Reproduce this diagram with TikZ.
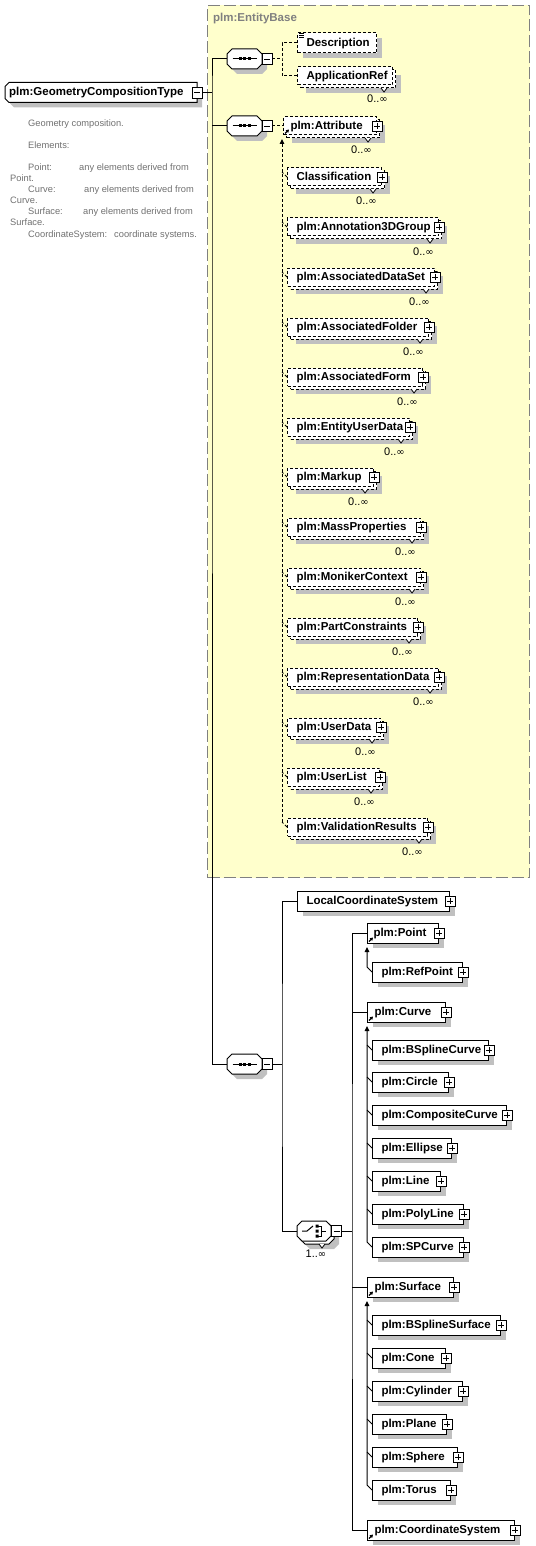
\documentclass[tikz,border=0pt]{standalone}
\usepackage{fontspec}
\setmainfont{Liberation Sans}
\newfontfamily\symf{DejaVu Sans}
\usetikzlibrary{calc,shadows,arrows.meta}
\definecolor{yel}{RGB}{255,255,204}
\definecolor{sgray}{RGB}{192,192,192}
\definecolor{bgray}{RGB}{128,128,128}
\definecolor{tgray}{RGB}{112,112,112}
\newcommand\etxt[3]{\makebox[#1pt][l]{\hspace{#2pt}\rule[-3.4pt]{0pt}{13.4pt}#3}}
\newcommand\infy{{\symf\fontsize{10}{12}\selectfont ∞}}
\newcommand\mkoct[4]{\draw[line width=1pt,fill=white,#4] (#1-#3+5,#2-10) -- (#1+#3-5,#2-10) -- (#1+#3,#2-5) -- (#1+#3,#2+5) -- (#1+#3-5,#2+10) -- (#1-#3+5,#2+10) -- (#1-#3,#2+5) -- (#1-#3,#2-5) -- cycle;}
\newcommand\seqicon[2]{\draw[line width=1pt] (#1-12,#2) -- (#1+12,#2); \fill (#1-6,#2-1.5) rectangle ++(3,3); \fill (#1-1.5,#2-1.5) rectangle ++(3,3); \fill (#1+3,#2-1.5) rectangle ++(3,3);}
\tikzset{
 shad/.style={drop shadow={shadow xshift=5pt,shadow yshift=-5pt,fill=sgray,opacity=1}},
 bfont/.style={font=\bfseries\fontsize{11.5}{13}\selectfont},
 elbox/.style={draw, fill=white, line width=1pt, inner sep=0pt, minimum height=20pt, anchor=west, bfont},
 optbox/.style={elbox, dash pattern=on 3pt off 2pt},
 repf/.style={optbox, minimum height=18pt},
 pbox/.style={draw, solid, fill=white, line width=0.8pt, minimum width=10pt, minimum height=10pt, inner sep=0pt,
   path picture={\draw[line width=0.8pt] ([xshift=2pt]path picture bounding box.west) -- ([xshift=-2pt]path picture bounding box.east) ([yshift=-2pt]path picture bounding box.north) -- ([yshift=2pt]path picture bounding box.south);}},
 mbox/.style={draw, solid, fill=white, line width=0.8pt, minimum width=10pt, minimum height=11pt, inner sep=0pt,
   path picture={\draw[line width=0.8pt] ([xshift=2pt]path picture bounding box.west) -- ([xshift=-2pt]path picture bounding box.east);}},
 octn/.style={minimum width=#1, minimum height=20pt, inner sep=0pt},
 conn/.style={line width=1pt},
 cdash/.style={line width=1pt, dash pattern=on 3pt off 2pt},
 subarr/.style={-{Triangle[length=5pt,width=4.5pt]}},
 mult/.style={font=\fontsize{11}{12}\selectfont, inner sep=0pt, anchor=base east},
 desc/.style={font=\fontsize{9.3}{11}\selectfont, text=tgray, inner sep=0pt, anchor=base west},
 refmark/.style={line width=1.2pt, -{Triangle[length=3pt,width=3.5pt]}},
}
\begin{document}
\begin{tikzpicture}[x=1pt,y=-1pt]
\useasboundingbox (0,0) rectangle (535,1546);
% EntityBase group
\node[draw=bgray, line width=1pt, dash pattern=on 12pt off 4pt, fill=yel, minimum width=322pt, minimum height=872pt, anchor=north west, inner sep=0pt] (eb) at (207,5) {};
\node[anchor=base west, inner sep=0pt, bfont, text=bgray] (ebl) at (213,22) {plm:EntityBase};

% root
\draw[line width=1pt, fill=white, shad] (9,82.5) -- (197,82.5) -- (197,102.5) -- (9,102.5) -- (5,98.5) -- (5,86.5) -- cycle;
\node[anchor=west, inner sep=0pt, minimum height=20pt, bfont] (root) at (5,92.5) {\etxt{192}{4}{plm:GeometryCompositionType}};
\node[mbox] (rootm) at (197,92.5) {};

% description text
\node[desc] (d1) at (28,127) {Geometry composition.};
\node[desc] (d2) at (28,149) {Elements:};
\node[desc] (d3) at (28,171) {Point:};
\node[desc] (d3b) at (79,171) {any elements derived from};
\node[desc] (d4) at (10,182) {Point.};
\node[desc] (d5) at (28,193) {Curve:};
\node[desc] (d5b) at (84,193) {any elements derived from};
\node[desc] (d6) at (10,204) {Curve.};
\node[desc] (d7) at (28,215) {Surface:};
\node[desc] (d7b) at (83,215) {any elements derived from};
\node[desc] (d8) at (10,226) {Surface.};
\node[desc] (d9) at (28,237) {CoordinateSystem:};
\node[desc] (d9b) at (114,237) {coordinate systems.};

% sequences
\mkoct{244.5}{59}{17.5}{shad}
\node[octn=35pt] (s1) at (244.5,59) {};
\seqicon{244.5}{59}
\node[mbox] (s1m) at (267,59) {};
\mkoct{244.5}{126}{17.5}{shad}
\node[octn=35pt] (s2) at (244.5,126) {};
\seqicon{244.5}{126}
\node[mbox] (s2m) at (267,126) {};
\mkoct{244.5}{1064}{17.5}{shad}
\node[octn=35pt] (s3) at (244.5,1064) {};
\seqicon{244.5}{1064}
\node[mbox] (s3m) at (267,1064) {};

\coordinate (j1) at (212,92.5);
\draw[conn] (rootm.east) -- (j1);
\draw[conn] (s1.west) -| (j1) |- (s3.west);
\draw[conn] (s2.west) -- (s2.west -| j1);

% sequence 1 content
\node[optbox, shad, minimum width=79pt] (desc) at (297,43) {\etxt{79}{9}{Description}};
\draw[line width=0.7pt] ($(desc.north west)+(2,1)$) -- ++(5,0) ($(desc.north west)+(2,3)$) -- ++(5,0) ($(desc.north west)+(2,5)$) -- ++(5,0);
\node[repf, shad, minimum width=95pt] (app-b) at (300,79) {};
\node[repf, minimum width=95pt] (app) at (297,76) {\etxt{95}{9}{ApplicationRef}};
\draw[line width=0.8pt, fill=white] (381,88) -- (384,92) -- (387,88);
\node[mult] (app-m) at (388,103) {0..\infy};
\coordinate (j2) at (282,59);
\draw[cdash] (s1m.east) -- (j2);
\draw[cdash] (desc.west) -| (j2) |- (app.west);

% sequence 2 content
\node[repf, shad, minimum width=93pt] (attr-b) at (286,129) {};
\node[repf, minimum width=93pt] (attr) at (283,126) {\etxt{93}{7}{plm:Attribute}};
\draw[line width=0.8pt, fill=white] (365,138) -- (368,142) -- (371,138);
\node[pbox] (attr-p) at (attr.east) {};
\node[mult] (attr-m) at (372,154) {0..\infy};
\draw[refmark] ($(attr.south west)+(2,-2)$) -- ++(4,-4);
\draw[cdash] (s2m.east) -- (attr.west);
\foreach \nm/\c/\r/\t in {cls/177/381/Classification, ann/227/438/plm:Annotation3DGroup, ads/277/434/plm:AssociatedDataSet, afo/327/428/plm:AssociatedFolder, afm/377/422/plm:AssociatedForm, eud/427/409/plm:EntityUserData, mku/477/373/plm:Markup, mpr/527/420/plm:MassProperties, mcx/577/420/plm:MonikerContext, pcs/627/417/plm:PartConstraints, rpd/677/438/plm:RepresentationData, usd/727/380/plm:UserData, usl/777/379/plm:UserList, vrs/827/427/plm:ValidationResults}{
  \pgfmathsetmacro\w{\r-287}
  \node[repf, shad, minimum width=\w pt] (\nm-b) at (290,\c+3) {};
  \node[repf, minimum width=\w pt] (\nm) at (287,\c) {\etxt{\w}{9}{\t}};
  \draw[line width=0.8pt, fill=white] (\r-11,\c+12) -- (\r-8,\c+16) -- (\r-5,\c+12);
  \node[pbox] (\nm-p) at (\nm.east) {};
  \node[mult] (\nm-m) at (\r-4,\c+28) {0..\infy};
  \draw[cdash] (\nm.west) -- ++(-5,-5);
}
\coordinate (attA) at (282,139);
\draw[cdash, subarr] ($(vrs.west)+(-5,-5)$) -- (attA);

% sequence 3 content
\coordinate (j3) at (282,1064);
\draw[conn] (s3m.east) -- (j3);
\node[elbox, shad, minimum width=152pt] (lcs) at (297,901) {\etxt{152}{9}{LocalCoordinateSystem}};
\node[pbox] (lcs-p) at (lcs.east) {};

% choice
\mkoct{317}{1234}{17}{shad}
\draw[line width=0.8pt, fill=white] (319,1244) -- (322,1248) -- (325,1244);
\mkoct{314}{1231}{17}{}
\node[octn=34pt] (ch) at (314,1231) {};
\draw[line width=1pt] (302,1231) -- (307,1231) -- (313,1226);
\fill (315.5,1224.5) rectangle ++(3,3) (315.5,1229.5) rectangle ++(3,3) (315.5,1234.5) rectangle ++(3,3);
\draw[line width=0.8pt] (318,1226) -- (321,1226) -- (321,1236) -- (318,1236) (321,1231) -- (326,1231);
\node[mbox] (chm) at (336.5,1231) {};
\node[mult, anchor=base] (ch-m) at (316,1257) {1..\infy};
\draw[conn] (lcs.west) -| (j3) |- (ch.west);

\foreach \nm/\x/\c/\r/\i/\t in {pt/367/933/438/6/plm:Point, rpt/372/972/462/9/plm:RefPoint, cur/367/1012/445/7/plm:Curve, bsc/372/1050/488/9/plm:BSplineCurve, cir/372/1082/448/9/plm:Circle, cpc/372/1115/506/9/plm:CompositeCurve, ell/372/1148/451/9/plm:Ellipse, lin/372/1181/440/9/plm:Line, pol/372/1214/463/9/plm:PolyLine, spc/372/1247/463/9/plm:SPCurve, sur/367/1287/453/7/plm:Surface, bss/372/1325/500/9/plm:BSplineSurface, con/372/1358/445/9/plm:Cone, cyl/372/1391/462/9/plm:Cylinder, pla/372/1424/446/9/plm:Plane, sph/372/1457/457/9/plm:Sphere, tor/372/1490/450/9/plm:Torus, cs/367/1530/514/7/plm:CoordinateSystem}{
  \pgfmathsetmacro\w{\r-\x}
  \node[elbox, shad, minimum width=\w pt] (\nm) at (\x,\c) {\etxt{\w}{\i}{\t}};
  \node[pbox] (\nm-p) at (\nm.east) {};
}
\foreach \nm in {pt,cur,sur,cs}{\draw[refmark] ($(\nm.south west)+(2,-2)$) -- ++(4,-4);}
\coordinate (j4) at (352,1231);
\draw[conn] (chm.east) -- (j4);
\draw[conn] (pt.west) -| (j4) |- (cs.west);
\draw[conn] (cur.west) -- (cur.west -| j4);
\draw[conn] (sur.west) -- (sur.west -| j4);
% substitution groups
\coordinate (ptA) at (367,947);
\draw[conn, subarr] (rpt.west) -- ++(-5,-5) -- (ptA);
\coordinate (curA) at (367,1026);
\draw[conn, subarr] (spc.west) -- ++(-5,-5) -- (curA);
\foreach \nm in {bsc,cir,cpc,ell,lin,pol}{\draw[conn] (\nm.west) -- ++(-5,-5);}
\coordinate (surA) at (367,1301);
\draw[conn, subarr] (tor.west) -- ++(-5,-5) -- (surA);
\foreach \nm in {bss,con,cyl,pla,sph}{\draw[conn] (\nm.west) -- ++(-5,-5);}
\end{tikzpicture}
\end{document}
